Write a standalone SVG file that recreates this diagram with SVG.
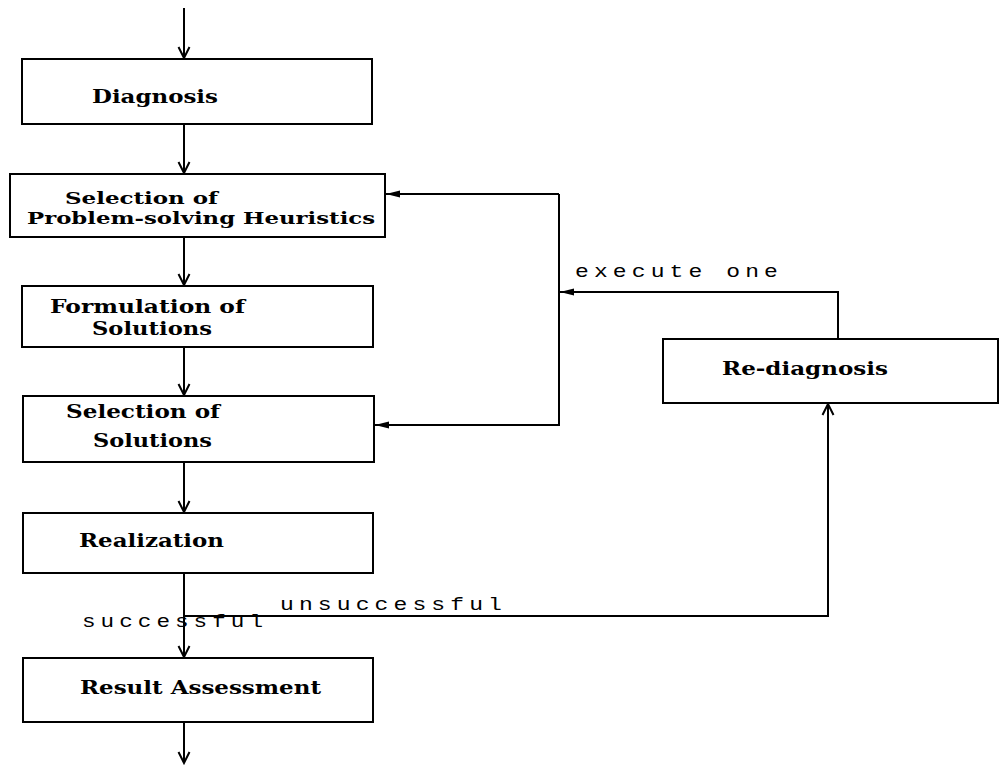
<svg xmlns="http://www.w3.org/2000/svg" width="1002" height="767" viewBox="0 0 1002 767">
<style>
.box{fill:#fff;stroke:#000;stroke-width:2}
.lbl{font-family:"DejaVu Serif","Liberation Serif",serif;font-weight:bold;font-size:19px;fill:#000}
.sm{font-size:17px}
.mono{font-family:"Liberation Mono","DejaVu Sans Mono",monospace;font-size:18px;letter-spacing:4px;fill:#000}
.ln{fill:none;stroke:#000;stroke-width:2}
.open{marker-end:url(#open)}
.fill{marker-end:url(#solid)}
</style>
<defs>
<marker id="open" viewBox="-13 -7 15 14" refX="0" refY="0" markerWidth="15" markerHeight="14" markerUnits="userSpaceOnUse" orient="auto">
<path d="M -11 -5.5 L 0 0 L -11 5.5" fill="none" stroke="#000" stroke-width="2"/>
</marker>
<marker id="solid" viewBox="-15 -5 16 10" refX="0" refY="0" markerWidth="16" markerHeight="10" markerUnits="userSpaceOnUse" orient="auto">
<path d="M 0 0 L -14 -3.5 L -14 3.5 Z" fill="#000"/>
</marker>
</defs>
<g id="connectors">
<line class="ln open" x1="184" y1="8" x2="184" y2="58"/>
<line class="ln open" x1="184" y1="124" x2="184" y2="173"/>
<line class="ln open" x1="184" y1="237" x2="184" y2="285"/>
<line class="ln open" x1="184" y1="347" x2="184" y2="395"/>
<line class="ln open" x1="184" y1="462" x2="184" y2="512"/>
<line class="ln open" x1="184" y1="573" x2="184" y2="657"/>
<line class="ln open" x1="184" y1="722" x2="184" y2="763"/>
<polyline class="ln fill" points="559,194 386,194"/>
<polyline class="ln fill" points="559,194 559,425 375,425"/>
<polyline class="ln fill" points="838,339 838,292 560,292"/>
<polyline class="ln open" points="184,616 828,616 828,404"/>
<text class="mono" x="575" y="277" textLength="208" lengthAdjust="spacingAndGlyphs">execute one</text>
<text class="mono" x="280" y="610" textLength="227" lengthAdjust="spacingAndGlyphs">unsuccessful</text>
<text class="mono" x="82" y="627" textLength="186" lengthAdjust="spacingAndGlyphs">successful</text>
</g>
<g id="diagnosis">
<rect class="box" x="22" y="59" width="350" height="65"/>
<text class="lbl" x="92" y="103" textLength="126" lengthAdjust="spacingAndGlyphs">Diagnosis</text>
</g>
<g id="selection-heuristics">
<rect class="box" x="10" y="174" width="375" height="63"/>
<text class="lbl sm" x="65" y="204" textLength="153" lengthAdjust="spacingAndGlyphs">Selection of</text>
<text class="lbl sm" x="27" y="224" textLength="348" lengthAdjust="spacingAndGlyphs">Problem-solving Heuristics</text>
</g>
<g id="formulation">
<rect class="box" x="22" y="286" width="351" height="61"/>
<text class="lbl" x="50" y="313" textLength="195" lengthAdjust="spacingAndGlyphs">Formulation of</text>
<text class="lbl" x="92" y="335" textLength="120" lengthAdjust="spacingAndGlyphs">Solutions</text>
</g>
<g id="selection-solutions">
<rect class="box" x="23" y="396" width="351" height="66"/>
<text class="lbl" x="66" y="418" textLength="154" lengthAdjust="spacingAndGlyphs">Selection of</text>
<text class="lbl" x="93" y="447" textLength="119" lengthAdjust="spacingAndGlyphs">Solutions</text>
</g>
<g id="realization">
<rect class="box" x="23" y="513" width="350" height="60"/>
<text class="lbl" x="79" y="547" textLength="145" lengthAdjust="spacingAndGlyphs">Realization</text>
</g>
<g id="result-assessment">
<rect class="box" x="23" y="658" width="350" height="64"/>
<text class="lbl" x="80" y="694" textLength="241" lengthAdjust="spacingAndGlyphs">Result Assessment</text>
</g>
<g id="re-diagnosis">
<rect class="box" x="663" y="339" width="335" height="64"/>
<text class="lbl" x="722" y="375" textLength="166" lengthAdjust="spacingAndGlyphs">Re-diagnosis</text>
</g>
</svg>
